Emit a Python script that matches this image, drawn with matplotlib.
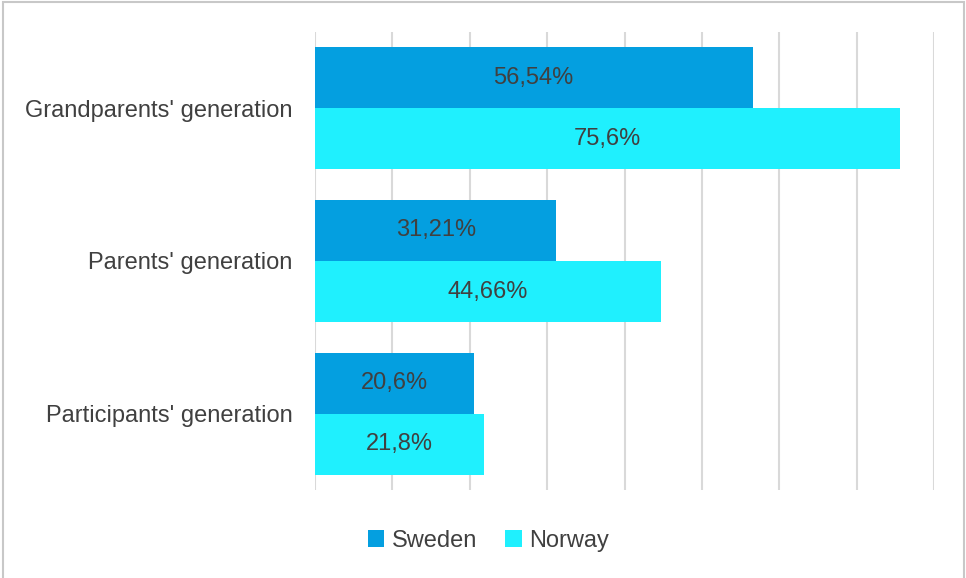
import numpy as np
import matplotlib.pyplot as plt
from matplotlib.patches import Rectangle

plt.rcParams['font.family'] = ['Liberation Sans', 'DejaVu Sans']

categories = ["Grandparents' generation", "Parents' generation", "Participants' generation"]
sweden = [56.54, 31.21, 20.6]
norway = [75.6, 44.66, 21.8]
sweden_lbl = ["56,54%", "31,21%", "20,6%"]
norway_lbl = ["75,6%", "44,66%", "21,8%"]

c_swe = '#049fe0'
c_nor = '#1ff0fe'
txt = '#404040'

fig = plt.figure(figsize=(9.66, 5.78), dpi=100)
fig.patches.append(Rectangle((0.003, -0.01), 0.995, 1.007, transform=fig.transFigure,
                             fill=False, edgecolor='#c8c8c8', lw=1.5))
ax = fig.add_axes([0.326, 0.152, 0.641, 0.793])

y = np.arange(len(categories))
h = 0.4
ax.barh(y - h / 2, sweden, height=h, color=c_swe, label='Sweden', zorder=2)
ax.barh(y + h / 2, norway, height=h, color=c_nor, label='Norway', zorder=2)

for i in range(len(categories)):
    ax.text(sweden[i] / 2, y[i] - h / 2, sweden_lbl[i], ha='center', va='center',
            fontsize=17, color=txt, zorder=3)
    ax.text(norway[i] / 2, y[i] + h / 2, norway_lbl[i], ha='center', va='center',
            fontsize=17, color=txt, zorder=3)

ax.set_xlim(0, 80)
ax.set_ylim(len(categories) - 0.5, -0.5)
ax.set_xticks(np.arange(0, 81, 10))
ax.set_xticklabels([])
ax.tick_params(axis='x', length=0)
ax.tick_params(axis='y', length=0, pad=16, labelsize=17, labelcolor=txt)
ax.set_yticks(y)
ax.set_yticklabels(categories)
ax.grid(axis='x', color='#d9d9d9', lw=1.5, zorder=0)
for s in ax.spines.values():
    s.set_visible(False)

ax.legend(loc='center', bbox_to_anchor=(0.28, -0.11), ncol=2, frameon=False,
          fontsize=17, labelcolor=txt, handlelength=0.7, handleheight=0.7,
          handletextpad=0.3, columnspacing=1.2)

plt.savefig("out.png", dpi=100)
plt.close()
